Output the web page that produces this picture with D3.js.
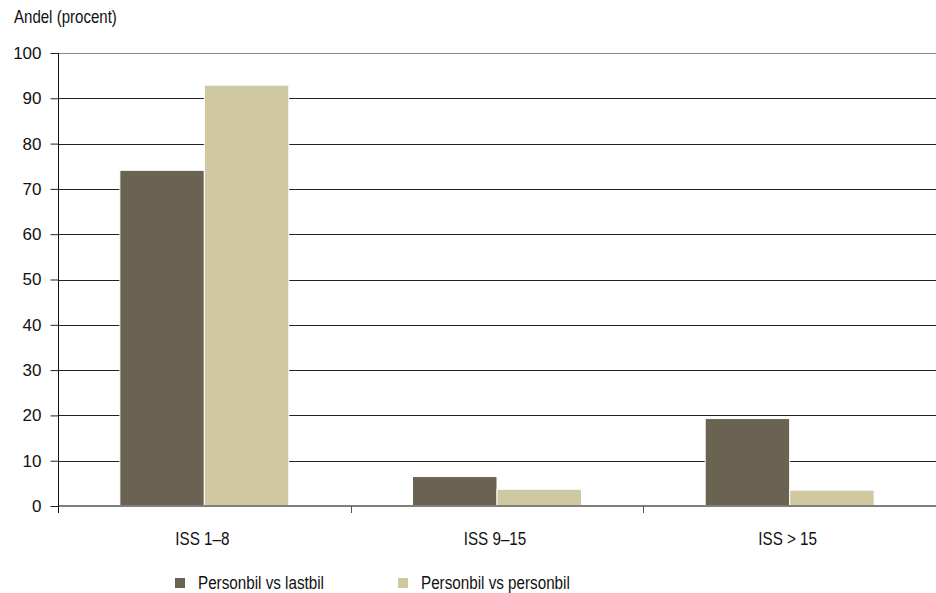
<!DOCTYPE html>
<html>
<head>
<meta charset="utf-8">
<script src="https://cdn.jsdelivr.net/npm/d3@7/dist/d3.min.js"></script>
<style>
  html, body { margin: 0; padding: 0; background: #fff; }
  svg { display: block; }
  text { font-family: "Liberation Sans", Arial, sans-serif; fill: #111; }
</style>
</head>
<body>
<svg id="chart" width="936" height="593"></svg>
<script>
// Andel skadade per ISS-grupp, två kollisionstyper
const categories = ["ISS 1–8", "ISS 9–15", "ISS > 15"];
const seriesNames = ["Personbil vs lastbil", "Personbil vs personbil"];
const lastbil = [74.1, 6.5, 19.3];
const personbil = [92.9, 3.7, 3.5];
const yTicks = [0, 10, 20, 30, 40, 50, 60, 70, 80, 90, 100];
const colors = ["#6a6351", "#cfc8a0"];
const yTitle = "Andel (procent)";

const values = [lastbil, personbil];
const rows = categories.map((c, i) => ({
  cat: c,
  bars: seriesNames.map((s, j) => ({ series: s, value: values[j][i] }))
}));

const svg = d3.select("#chart");
const plotLeft = 58, plotRight = 936, plotTop = 53, plotBottom = 506;

const x = d3.scaleBand().domain(categories).range([plotLeft, plotRight]).paddingInner(0).paddingOuter(0);
const x1 = d3.scaleBand().domain(seriesNames).range([0, x.bandwidth()]).paddingInner(0).paddingOuter(0.732);
const y = d3.scaleLinear().domain([0, 100]).range([plotBottom, plotTop]);
const color = d3.scaleOrdinal().domain(seriesNames).range(colors);

// Horizontally narrowed text
function squeeze(sel, sx) {
  sel.each(function () {
    const t = d3.select(this);
    const tx = +t.attr("x") || 0, ty = +t.attr("y") || 0;
    t.attr("transform", `translate(${tx},${ty}) scale(${sx},1) translate(${-tx},${-ty})`);
  });
}

// Horizontal gridlines (top one lighter)
svg.append("g")
  .selectAll("line")
  .data(yTicks.filter(d => d > 0))
  .join("line")
  .attr("x1", plotLeft).attr("x2", plotRight)
  .attr("y1", d => Math.round(y(d)) + 0.5).attr("y2", d => Math.round(y(d)) + 0.5)
  .attr("stroke", d => d === 100 ? "#8a8a8a" : "#222").attr("stroke-width", 1);

// Bars
svg.append("g")
  .selectAll("g")
  .data(rows)
  .join("g")
  .attr("transform", d => `translate(${x(d.cat)},0)`)
  .selectAll("rect")
  .data(d => d.bars)
  .join("rect")
  .attr("x", d => x1(d.series))
  .attr("y", d => y(d.value))
  .attr("width", x1.bandwidth())
  .attr("height", d => y(0) - y(d.value))
  .attr("fill", d => color(d.series))
  .attr("stroke", "#fff")
  .attr("stroke-width", 1);

// X baseline and category boundary ticks
svg.append("line")
  .attr("x1", plotLeft).attr("x2", plotRight)
  .attr("y1", plotBottom).attr("y2", plotBottom)
  .attr("stroke", "#7f7f7f").attr("stroke-width", 2);
svg.append("g")
  .selectAll("line")
  .data(categories.slice(1))
  .join("line")
  .attr("x1", d => Math.round(x(d)) + 0.5).attr("x2", d => Math.round(x(d)) + 0.5)
  .attr("y1", plotBottom).attr("y2", plotBottom + 7)
  .attr("stroke", "#555").attr("stroke-width", 1);

// Y axis
const yAxis = svg.append("g")
  .attr("transform", `translate(${plotLeft + 0.5},0)`)
  .call(d3.axisLeft(y).tickValues(yTicks).tickSize(8).tickPadding(9).tickFormat(d3.format("d")));
yAxis.select(".domain").remove();
yAxis.selectAll(".tick line").attr("stroke", "#222");
yAxis.selectAll(".tick text")
  .style("font-family", "'Liberation Sans', Arial, sans-serif")
  .style("font-size", "17px")
  .attr("fill", "#111");
svg.append("line")
  .attr("x1", plotLeft + 0.5).attr("x2", plotLeft + 0.5)
  .attr("y1", plotTop).attr("y2", plotBottom + 7)
  .attr("stroke", "#111").attr("stroke-width", 1);

// Category labels
svg.append("g")
  .selectAll("text")
  .data(categories)
  .join("text")
  .attr("x", d => x(d) + x.bandwidth() / 2 - 2)
  .attr("y", 545)
  .attr("text-anchor", "middle")
  .style("font-size", "17.5px")
  .text(d => d)
  .call(squeeze, 0.87);

// Y title
svg.append("text")
  .attr("x", 14).attr("y", 23)
  .style("font-size", "17.5px")
  .text(yTitle)
  .call(squeeze, 0.86);

// Legend
const legendX = [175, 398];
const legend = svg.append("g")
  .selectAll("g")
  .data(seriesNames)
  .join("g")
  .attr("transform", (d, i) => `translate(${legendX[i]},578)`);
legend.append("rect")
  .attr("width", 10).attr("height", 10)
  .attr("fill", d => color(d));
legend.append("text")
  .attr("x", 23).attr("y", 10.5)
  .style("font-size", "17.5px")
  .text(d => d)
  .call(squeeze, 0.87);
</script>
</body>
</html>
